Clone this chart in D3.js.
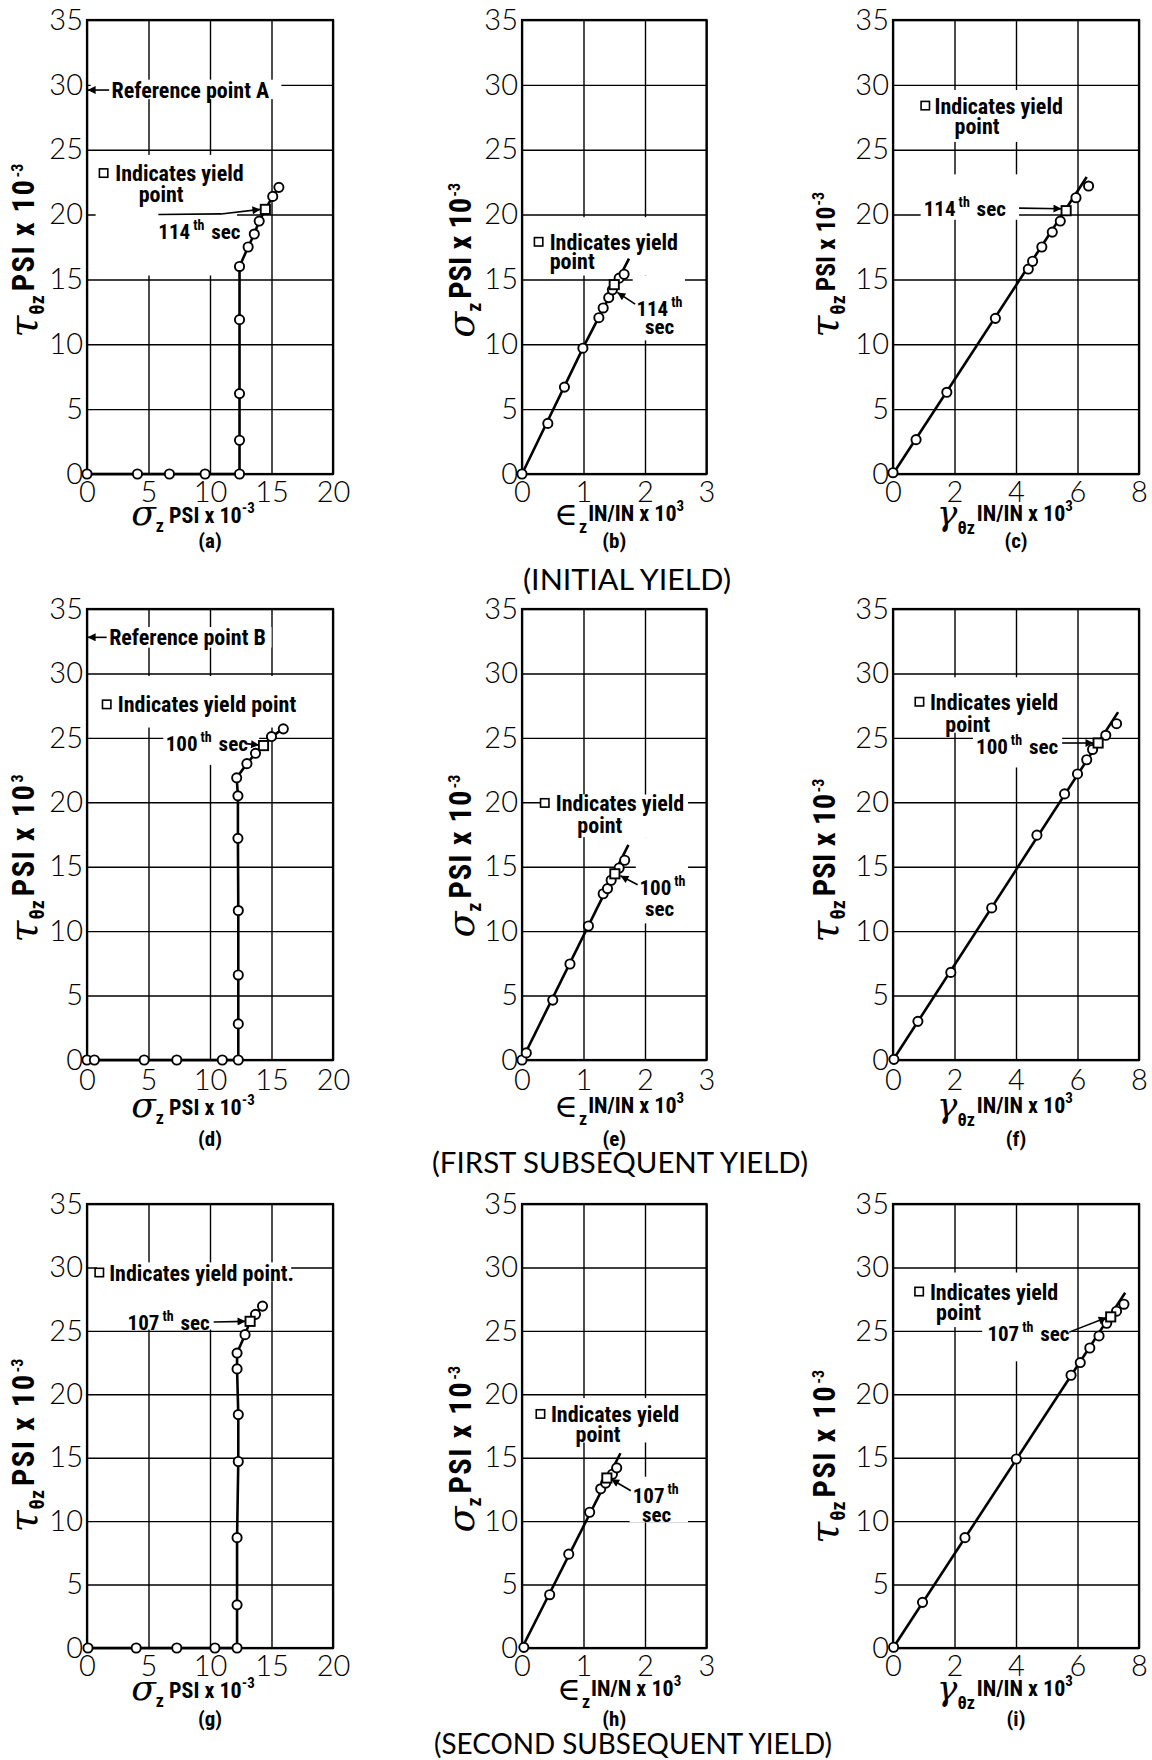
<!DOCTYPE html>
<html><head><meta charset="utf-8">
<script src="https://cdn.jsdelivr.net/npm/d3@7"></script>
<style>
body{margin:0;background:#fff;}
svg{display:block;background:#fff;}
</style></head><body>
<svg id="c" width="1152" height="1760"></svg>
<script>
// ---------------- DATA ----------------
const yTicks = [0,5,10,15,20,25,30,35];
const sigmaTicks = [0,5,10,15,20];
const epsTicks = [0,1,2,3];
const gammaTicks = [0,2,4,6,8];

// (a) initial yield: tau vs sigma
const aX = [0,4.1,6.7,9.6,12.4,12.4,12.4,12.4,12.4,13.1,13.6,14.0,14.5,15.1,15.6];
const aY = [0,0,0,0,0,2.6,6.2,11.9,16.0,17.5,18.5,19.5,20.4,21.4,22.1];
const aYield = 12;
// (b) sigma vs eps
const bX = [0,0.42,0.69,0.99,1.25,1.32,1.41,1.47,1.50,1.58,1.66];
const bY = [0,3.9,6.7,9.7,12.05,12.8,13.6,14.2,14.6,15.1,15.4];
const bYield = 8;
const bFitX = [0,1.0,1.74];
const bFitY = [0,9.8,16.6];
// (c) tau vs gamma
const cX = [0,0.75,1.75,3.33,4.4,4.54,4.84,5.18,5.44,5.63,5.95,6.36];
const cY = [0.1,2.65,6.3,12.0,15.8,16.4,17.5,18.65,19.5,20.3,21.3,22.2];
const cYield = 9;
const cFitX = [0,6.3];
const cFitY = [0,22.9];
// (d) first subsequent yield
const dX = [0,0.6,4.65,7.3,11.0,12.3,12.3,12.3,12.3,12.27,12.27,12.17,13.0,13.7,14.35,15.0,15.96];
const dY = [0,0,0,0,0,0,2.8,6.6,11.6,17.2,20.5,21.9,23.0,23.8,24.4,25.1,25.7];
const dYield = 14;
// (e)
const eX = [0,0.07,0.5,0.78,1.08,1.32,1.39,1.45,1.51,1.58,1.67];
const eY = [0,0.55,4.65,7.45,10.4,12.9,13.3,13.95,14.45,14.9,15.5];
const eYield = 8;
const eFitX = [0,1.73];
const eFitY = [0,16.7];
// (f)
const fX = [0.03,0.81,1.88,3.21,4.68,5.58,6.0,6.3,6.49,6.67,6.92,7.27];
const fY = [0.05,3.0,6.8,11.8,17.45,20.65,22.2,23.3,24.1,24.6,25.2,26.1];
const fYield = 9;
const fFitX = [0,7.32];
const fFitY = [0,27.0];
// (g) second subsequent yield
const gX = [0.08,4.0,7.3,10.4,12.2,12.2,12.2,12.3,12.3,12.2,12.2,12.85,13.26,13.7,14.27];
const gY = [0,0,0,0,0,3.4,8.7,14.7,18.4,22.0,23.25,24.7,25.75,26.3,26.95];
const gYield = 12;
// (h)
const hX = [0.03,0.45,0.76,1.1,1.28,1.36,1.38,1.47,1.54];
const hY = [0.05,4.2,7.4,10.7,12.55,13.0,13.4,13.7,14.2];
const hYield = 6;
const hFitX = [0,1.6];
const hFitY = [0,15.35];
// (i)
const iX = [0.02,0.96,2.34,4.01,5.79,6.09,6.4,6.7,6.95,7.08,7.27,7.51];
const iY = [0.06,3.6,8.7,14.9,21.5,22.5,23.65,24.6,25.6,26.1,26.55,27.1];
const iYield = 9;
const iFitX = [0,7.55];
const iFitY = [0,28.0];

const rowTitles = ["(INITIAL YIELD)", "(FIRST  SUBSEQUENT  YIELD)", "(SECOND SUBSEQUENT YIELD)"];
const subLabels = ["(a)","(b)","(c)","(d)","(e)","(f)","(g)","(h)","(i)"];

// ---------------- LAYOUT / STYLE ----------------
const NUM = "'Lato','Roboto','Liberation Sans',sans-serif";
const LAB = "'Liberation Sans Narrow','Arial Narrow','Roboto Condensed','Liberation Sans',sans-serif";
const SYM = "'DejaVu Serif','Liberation Serif',serif";

const colX = [[87,333],[522,706.5],[893,1139]];
const rowY = [[20,474],[609,1060],[1204,1648]];
const tickPad = [7,9,7];
const xTitleBase = [525,1117,1700];
const subBase = [548,1146,1726];
const rowTitleBase = [590,1173,1754];
const rowTitleX = [627,620,633];
const rowTitleLen = [208,376,398];
const xTitleOff = [-17,5,-11];
const yTitleX = [37,474,838];
// per panel: rotated y-title start (data value of its lower end) and overall length in px
const yTitleBottom = [10.5,10.5,10.5, 9.1,9.5,9.1, 9.1,9.1,8.2];
const yTitleLen = [182,150,140, 168,158,158, 168,170,168];

const svg = d3.select('#c');
const defs = svg.append('defs');
defs.append('marker').attr('id','ah').attr('viewBox','0 0 10 10').attr('refX',10).attr('refY',5)
  .attr('markerWidth',12).attr('markerHeight',8).attr('markerUnits','userSpaceOnUse').attr('orient','auto')
  .append('path').attr('d','M0,0 L10,5 L0,10 Z').attr('fill','#000');

function rich(parent, x, y, parts, anchor){
  const t = parent.append('text').attr('x',x).attr('y',y).attr('text-anchor',anchor||'start').attr('fill','#000');
  let cur = 0;
  parts.forEach(p=>{
    const s = p.shift||0;
    t.append('tspan').attr('class',p.cls||null).attr('dy',s-cur).attr('dx',p.dx||0)
      .attr('font-size',p.fs).attr('font-family',p.ff||LAB)
      .attr('font-weight',p.fw||700).attr('font-style',p.fst||'normal')
      .attr('letter-spacing',p.ls||0).text(p.t);
    cur = s;
  });
  return t;
}

const T = {
  tauY: sup => [{t:'τ',fs:40,ff:SYM,fst:'italic',fw:400},{t:'θz',fs:20,shift:7,dx:1},{t:'PSI x 10',fs:25,shift:-3,dx:4,cls:'st'},{t:sup,fs:16,shift:-14,dx:1}],
  sigY: [{t:'σ',fs:38,ff:SYM,fst:'italic',fw:400},{t:'z',fs:20,shift:7},{t:'PSI x 10',fs:25,shift:-3,dx:4,cls:'st'},{t:'-3',fs:16,shift:-14,dx:1}],
  sigX: [{t:'σ',fs:36,ff:SYM,fst:'italic',fw:400},{t:'z',fs:18,shift:7},{t:' PSI x 10',fs:22,shift:-2},{t:'-3',fs:15,shift:-12}],
  epsX: n => [{t:'∈',fs:32,ff:SYM,fw:400},{t:'z',fs:18,shift:8,dx:1},{t:n,fs:22,shift:-4,dx:1},{t:'3',fs:15,shift:-14}],
  gamX: [{t:'γ',fs:34,ff:SYM,fst:'italic',fw:400},{t:'θz',fs:18,shift:9},{t:'IN/IN x 10',fs:22,shift:-4,dx:2},{t:'3',fs:15,shift:-14}]
};

const th = (n,s) => [{t:n,fs:21},{t:'th',fs:14,shift:-9,dx:3},{t:s,fs:21,shift:0,dx:2}];
const lab = s => [{t:s,fs:22}];

const panels = [
 {r:0,c:0,xd:[0,20],xt:sigmaTicks,X:aX,Y:aY,yi:aYield,fx:null,fy:null,xTitle:T.sigX,yTitle:T.tauY('-3'),
  masks:[[0.3,15.8,28.9,30.4],[0.7,12.2,15.3,24.6]],
  notes:[
   {k:'arrow',p:[[1.8,29.6],[0.05,29.6]]},
   {k:'text',x:2.0,y:29.6,parts:lab('Reference point A')},
   {k:'sq',x:1.35,y:23.2},
   {k:'text',x:2.3,y:23.2,parts:lab('Indicates yield')},
   {k:'text',x:4.2,y:21.6,parts:lab('point')},
   {k:'text',x:5.8,y:18.7,parts:th('114',' sec')},
   {k:'arrow',p:[[5.8,20.0],[10.9,20.05],[14.1,20.4]]}
  ]},
 {r:0,c:1,xd:[0,3],xt:epsTicks,X:bX,Y:bY,yi:bYield,fx:bFitX,fy:bFitY,xTitle:T.epsX('IN/IN x 10'),yTitle:T.sigY,
  masks:[[0.15,2.62,15.3,19.8],[1.8,2.65,10.3,15.3]],
  notes:[
   {k:'sq',x:0.27,y:17.9},
   {k:'text',x:0.45,y:17.9,parts:lab('Indicates yield')},
   {k:'text',x:0.45,y:16.4,parts:lab('point')},
   {k:'text',x:1.86,y:12.8,parts:th('114','')},
   {k:'text',x:2.0,y:11.4,parts:[{t:'sec',fs:21}]},
   {k:'arrow',p:[[1.84,13.1],[1.55,14.0]]}
  ]},
 {r:0,c:2,xd:[0,8],xt:gammaTicks,X:cX,Y:cY,yi:cYield,fx:cFitX,fy:cFitY,xTitle:T.gamX,yTitle:T.tauY('-3'),
  masks:[[0.9,5.7,25.6,29.6],[0.9,4.1,19.6,23.1]],
  notes:[
   {k:'sq',x:1.05,y:28.4},
   {k:'text',x:1.35,y:28.4,parts:lab('Indicates yield')},
   {k:'text',x:2.0,y:26.8,parts:lab('point')},
   {k:'text',x:1.0,y:20.5,parts:th('114',' sec')},
   {k:'arrow',p:[[4.1,20.5],[5.48,20.45]]}
  ]},
 {r:1,c:0,xd:[0,20],xt:sigmaTicks,X:dX,Y:dY,yi:dYield,fx:null,fy:null,xTitle:T.sigX,yTitle:T.tauY('3'),
  masks:[[0.3,15.0,32.0,33.6],[1.2,17.0,25.8,29.8],[6.2,14.0,22.9,25.9]],
  notes:[
   {k:'arrow',p:[[1.6,32.8],[0.05,32.8]]},
   {k:'text',x:1.8,y:32.8,parts:lab('Reference point B')},
   {k:'sq',x:1.6,y:27.6},
   {k:'text',x:2.5,y:27.6,parts:lab('Indicates yield  point')},
   {k:'text',x:6.4,y:24.6,parts:th('100',' sec')},
   {k:'arrow',p:[[12.9,24.55],[13.99,24.45]]}
  ]},
 {r:1,c:1,xd:[0,3],xt:epsTicks,X:eX,Y:eY,yi:eYield,fx:eFitX,fy:eFitY,xTitle:T.epsX('IN/IN x 10'),yTitle:T.sigY,
  masks:[[0.3,2.7,17.3,20.6],[1.85,2.7,10.6,17.3]],
  notes:[
   {k:'sq',x:0.37,y:19.95},
   {k:'text',x:0.55,y:19.95,parts:lab('Indicates yield')},
   {k:'text',x:0.9,y:18.25,parts:lab('point')},
   {k:'text',x:1.91,y:13.4,parts:th('100','')},
   {k:'text',x:2.0,y:11.8,parts:[{t:'sec',fs:21}]},
   {k:'arrow',p:[[1.88,13.6],[1.6,14.3]]}
  ]},
 {r:1,c:2,xd:[0,8],xt:gammaTicks,X:fX,Y:fY,yi:fYield,fx:fFitX,fy:fFitY,xTitle:T.gamX,yTitle:T.tauY('-3'),
  masks:[[0.6,5.7,25.4,29.7],[2.6,5.5,22.7,25.4]],
  notes:[
   {k:'sq',x:0.86,y:27.8},
   {k:'text',x:1.2,y:27.8,parts:lab('Indicates yield')},
   {k:'text',x:1.7,y:26.1,parts:lab('point')},
   {k:'text',x:2.7,y:24.4,parts:th('100',' sec')},
   {k:'arrow',p:[[5.5,24.6],[6.52,24.6]]}
  ]},
 {r:2,c:0,xd:[0,20],xt:sigmaTicks,X:gX,Y:gY,yi:gYield,fx:null,fy:null,xTitle:T.sigX,yTitle:T.tauY('-3'),
  masks:[[0.8,16.6,28.9,30.4],[3.0,10.4,25.1,28.9]],
  notes:[
   {k:'sq',x:1.0,y:29.6},
   {k:'text',x:1.8,y:29.6,parts:lab('Indicates yield point.')},
   {k:'text',x:3.3,y:25.7,parts:th('107',' sec')},
   {k:'arrow',p:[[10.3,25.7],[12.89,25.75]]}
  ]},
 {r:2,c:1,xd:[0,3],xt:epsTicks,X:hX,Y:hY,yi:hYield,fx:hFitX,fy:hFitY,xTitle:T.epsX('IN/N x 10'),yTitle:T.sigY,
  masks:[[0.2,2.62,16.2,19.7],[1.75,2.7,9.9,13.5]],
  notes:[
   {k:'sq',x:0.3,y:18.45},
   {k:'text',x:0.47,y:18.45,parts:lab('Indicates yield')},
   {k:'text',x:0.87,y:16.85,parts:lab('point')},
   {k:'text',x:1.8,y:12.1,parts:th('107','')},
   {k:'text',x:1.95,y:10.6,parts:[{t:'sec',fs:21}]},
   {k:'arrow',p:[[1.77,12.4],[1.45,13.3]]}
  ]},
 {r:2,c:2,xd:[0,8],xt:gammaTicks,X:iX,Y:iY,yi:iYield,fx:iFitX,fy:iFitY,xTitle:T.gamX,yTitle:T.tauY('-3'),
  masks:[[0.6,5.7,25.3,29.6],[2.9,5.8,22.6,25.3]],
  notes:[
   {k:'sq',x:0.85,y:28.1},
   {k:'text',x:1.2,y:28.1,parts:lab('Indicates yield')},
   {k:'text',x:1.4,y:26.5,parts:lab('point')},
   {k:'text',x:3.07,y:24.8,parts:th('107',' sec')},
   {k:'arrow',p:[[5.73,24.9],[6.95,26.05]]}
  ]}
];

panels.forEach((P,idx)=>{
  const [x0,x1] = colX[P.c], [y0,y1] = rowY[P.r];
  const x = d3.scaleLinear().domain(P.xd).range([x0,x1]);
  const y = d3.scaleLinear().domain([0,35]).range([y1,y0]);
  const g = svg.append('g');

  // axes + grid
  const ax = g.append('g').attr('transform',`translate(0,${y1})`)
    .call(d3.axisBottom(x).tickValues(P.xt).tickSize(-(y1-y0)).tickPadding(tickPad[P.r]).tickFormat(d3.format('d')));
  const ay = g.append('g').attr('transform',`translate(${x0},0)`)
    .call(d3.axisLeft(y).tickValues(yTicks).tickSize(-(x1-x0)).tickPadding(4).tickFormat(d3.format('d')));
  [ax,ay].forEach(a=>{
    a.select('.domain').remove();
    a.selectAll('line').attr('stroke','#000').attr('stroke-width',1.4);
    a.selectAll('text').attr('font-family',NUM).attr('font-weight',300).attr('font-size',29).attr('fill','#000');
  });
  g.append('rect').attr('x',x0).attr('y',y0).attr('width',x1-x0).attr('height',y1-y0)
    .attr('fill','none').attr('stroke','#000').attr('stroke-width',2.2);

  // white masks behind annotations
  P.masks.forEach(m=>{
    g.append('rect').attr('x',x(m[0])).attr('y',y(m[3])).attr('width',x(m[1])-x(m[0])).attr('height',y(m[2])-y(m[3])).attr('fill','#fff');
  });

  // data line
  const line = d3.line().x(d=>x(d[0])).y(d=>y(d[1]));
  const pts = P.X.map((v,i)=>[v,P.Y[i]]);
  const lp = P.fx ? P.fx.map((v,i)=>[v,P.fy[i]]) : pts;
  g.append('path').attr('d',line(lp)).attr('fill','none').attr('stroke','#000').attr('stroke-width',2.6).attr('stroke-linejoin','round');

  // markers
  g.selectAll('circle.pt').data(pts.filter((d,i)=>i!==P.yi)).enter().append('circle')
    .attr('cx',d=>x(d[0])).attr('cy',d=>y(d[1])).attr('r',4.6)
    .attr('fill','#fff').attr('stroke','#000').attr('stroke-width',1.9);
  const yp = pts[P.yi];
  g.append('rect').attr('x',x(yp[0])-4.6).attr('y',y(yp[1])-4.6).attr('width',9.2).attr('height',9.2)
    .attr('fill','#fff').attr('stroke','#000').attr('stroke-width',1.9);

  // annotations
  P.notes.forEach(n=>{
    if(n.k==='text'){
      rich(g, x(n.x), y(n.y)+8, n.parts, 'start');
    } else if(n.k==='sq'){
      g.append('rect').attr('x',x(n.x)-4.2).attr('y',y(n.y)-4.2).attr('width',8.4).attr('height',8.4)
        .attr('fill','#fff').attr('stroke','#000').attr('stroke-width',1.6);
    } else if(n.k==='arrow'){
      g.append('path').attr('d',line(n.p)).attr('fill','none').attr('stroke','#000').attr('stroke-width',1.6).attr('marker-end','url(#ah)');
    }
  });

  // axis titles
  const cx = (x0+x1)/2;
  rich(g, cx + xTitleOff[P.c], xTitleBase[P.r], P.xTitle, 'middle');
  const gy = g.append('g').attr('transform',`translate(${yTitleX[P.c]},${y(yTitleBottom[idx])}) rotate(-90)`);
  const yt = rich(gy, 0, 0, P.yTitle, 'start');
  // fit the rotated title to its reference length: grow the "PSI x 10" part, then space it a little
  const st = yt.select('tspan.st');
  const L = yt.node().getComputedTextLength();
  const Lp = st.node().getComputedTextLength();
  const want = Lp + (yTitleLen[idx] - L);
  const k = Math.max(0.9, Math.min(1.22, want / Lp));
  st.attr('font-size', 25 * k);
  const L2 = yt.node().getComputedTextLength();
  const ls = Math.max(-0.8, Math.min(1.5, (yTitleLen[idx] - L2) / 8));
  st.attr('letter-spacing', ls);
  // sub label
  g.append('text').attr('x',cx).attr('y',subBase[P.r]).attr('text-anchor','middle')
    .attr('font-family',LAB).attr('font-weight',700).attr('font-size',21).text(subLabels[idx]);
});

rowTitles.forEach((t,i)=>{
  svg.append('text').attr('x',rowTitleX[i]).attr('y',rowTitleBase[i]).attr('text-anchor','middle')
    .attr('font-family',NUM).attr('font-weight',400).attr('font-size',29)
    .attr('textLength',rowTitleLen[i]).attr('lengthAdjust','spacingAndGlyphs').text(t);
});
</script>
</body></html>
